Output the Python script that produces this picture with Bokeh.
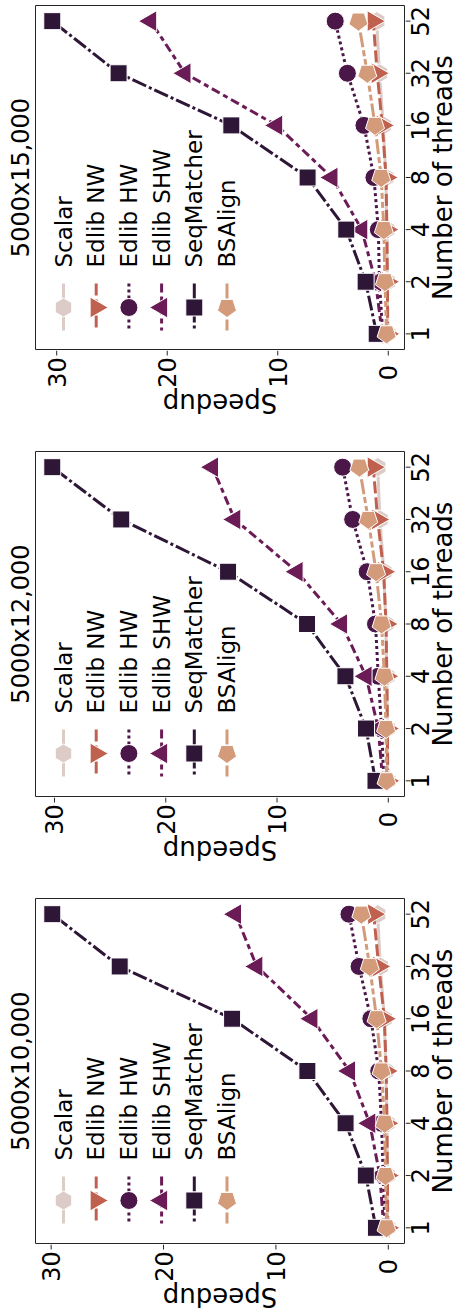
import math
from bokeh.plotting import figure
from bokeh.models import Range1d
from bokeh.layouts import column, row
from bokeh.embed import file_html
from bokeh.resources import INLINE
from bokeh.core.properties import value

# ---------------- data ----------------
threads = ["1", "2", "4", "8", "16", "32", "52"]
series = ["Scalar", "Edlib NW", "Edlib HW", "Edlib SHW", "SeqMatcher", "BSAlign"]
panel_titles = ["5000x15,000", "5000x12,000", "5000x10,000"]
speedup_ticks = [0, 10, 20, 30]
x_label = "Speedup"
y_label = "Number of threads"

# 5000x15,000
s15_scalar = [0.05, 0.08, 0.13, 0.22, 0.45, 0.80, 1.05]
s15_nw = [0.05, 0.08, 0.13, 0.20, 0.54, 1.00, 1.36]
s15_hw = [0.50, 0.80, 0.90, 1.30, 2.20, 3.70, 4.80]
s15_shw = [0.55, 1.15, 2.40, 5.10, 10.1, 18.4, 21.5]
s15_seq = [1.05, 2.05, 3.80, 7.30, 14.2, 24.4, 30.4]
s15_bsa = [0.15, 0.30, 0.40, 0.64, 1.20, 1.90, 2.70]

# 5000x12,000
s12_scalar = [0.05, 0.08, 0.13, 0.22, 0.40, 0.75, 0.95]
s12_nw = [0.05, 0.08, 0.13, 0.20, 0.42, 0.95, 1.35]
s12_hw = [0.40, 0.60, 0.90, 1.15, 1.90, 3.20, 4.10]
s12_shw = [0.50, 0.90, 2.00, 4.20, 8.20, 13.8, 15.8]
s12_seq = [1.15, 2.00, 3.85, 7.30, 14.4, 24.0, 30.2]
s12_bsa = [0.15, 0.20, 0.35, 0.60, 1.10, 1.80, 2.60]

# 5000x10,000
s10_scalar = [0.05, 0.08, 0.12, 0.22, 0.35, 0.70, 0.95]
s10_nw = [0.05, 0.08, 0.12, 0.18, 0.35, 0.85, 1.30]
s10_hw = [0.30, 0.45, 0.60, 0.85, 1.55, 2.60, 3.50]
s10_shw = [0.40, 0.75, 1.65, 3.45, 6.80, 11.7, 13.6]
s10_seq = [1.10, 2.00, 3.80, 7.20, 13.9, 23.9, 29.9]
s10_bsa = [0.15, 0.25, 0.32, 0.60, 1.04, 1.65, 2.40]

panel_data = [
    [s15_scalar, s15_nw, s15_hw, s15_shw, s15_seq, s15_bsa],
    [s12_scalar, s12_nw, s12_hw, s12_shw, s12_seq, s12_bsa],
    [s10_scalar, s10_nw, s10_hw, s10_shw, s10_seq, s10_bsa],
]

# ---------------- style / layout ----------------
colors = ["#dccbc7", "#c0614f", "#4b1748", "#6b1c56", "#2e1637", "#d49b7b"]
dashes = ["solid", "12 4", "3 3", "9 4 5 4", "15 3 3 3", "15 3 6 3 6 3"]
markers = [("hex", math.pi / 2, 19), ("inverted_triangle", math.pi / 2, 21),
           ("circle", 0.0, 18), ("triangle", math.pi / 2, 21),
           ("square", 0.0, 17), ("pentagon", math.pi / 5, 10)]
FONT = "DejaVu Sans"
AX = "#262626"
TICK_FS = "24px"
LAB_FS = "26px"
TITLE_FS = "24px"
LEG_FS = "23px"

TOTAL_W = 458
PAD = 1              # keeps the frame outline fully inside the main canvas
LEFT_W = 35 - PAD    # strip holding the panel title
FW = 369             # plot frame width
TOP = 5
panel_heights = [446, 447, 420]
frame_heights = [344, 345, 345]
R_W = TOTAL_W - LEFT_W - FW - 2 * PAD
TICK_LEN = 5

n = len(threads)
ypos = list(range(n))
ymar = 0.05 * (n - 1)
ylo, yhi = -ymar, (n - 1) + ymar


def draw_marker(p, xs, ys, k):
    name, ang, sz = markers[k]
    if name == "pentagon":
        try:
            p.ngon(x=xs, y=ys, radius=sz, radius_units="screen", n=5,
                   angle=ang, fill_color=colors[k], line_color="white", line_width=1)
            return
        except Exception:
            name, ang, sz = "hex", math.pi / 2, 19
    p.scatter(x=xs, y=ys, marker=name, angle=ang, size=sz,
              fill_color=colors[k], line_color="white", line_width=1)


def strip(fw, fh, xr, yr, top=0, bottom=0, left=0, right=0):
    s = figure(frame_width=fw, frame_height=fh, x_range=xr, y_range=yr,
               x_axis_location=None, y_axis_location=None,
               toolbar_location=None, output_backend="svg",
               min_border_left=left, min_border_right=right,
               min_border_top=top, min_border_bottom=bottom,
               background_fill_color="white", border_fill_color="white")
    s.grid.visible = False
    s.outline_line_color = None
    return s


rows = []
for pi_, title in enumerate(panel_titles):
    data = panel_data[pi_]
    allv = [v for s in data for v in s]
    mn, mx = min(allv), max(allv)
    span = mx - mn
    hi, lo = mx + 0.05 * span, mn - 0.05 * span
    H = panel_heights[pi_]
    FH = frame_heights[pi_]
    xr = Range1d(hi, lo)
    yr = Range1d(ylo, yhi)

    def fx(px):
        return hi - px / FW * (hi - lo)

    def fy(py):
        return yhi - py / FH * (yhi - ylo)

    # ---- main plot ----
    p = strip(FW, FH, xr, yr, top=TOP, bottom=PAD, left=PAD, right=PAD)
    p.outline_line_color = AX
    p.outline_line_width = 1

    for k in range(len(series)):
        p.line(x=data[k], y=ypos, line_color=colors[k], line_width=3,
               line_dash=dashes[k])
        draw_marker(p, data[k], ypos, k)

    # legend (drawn by hand so that it can be rotated like the figure)
    leg_x = [fx(28 + 32.7 * k) for k in range(len(series))]
    for k in range(len(series)):
        p.line(x=[leg_x[k], leg_x[k]], y=[fy(278), fy(325)], line_color=colors[k],
               line_width=3, line_dash=dashes[k])
        draw_marker(p, [leg_x[k]], [fy(302)], k)
    p.text(x=leg_x, y=[fy(262)] * len(series), text=series, angle=math.pi / 2,
           text_font=value(FONT), text_font_size=LEG_FS, text_align="left",
           text_baseline="middle", text_color="black")

    # ---- left strip: title ----
    L = strip(LEFT_W, FH, Range1d(0, LEFT_W), yr, top=TOP, bottom=H - TOP - FH)
    L.text(x=[20.3], y=[(ylo + yhi) / 2], text=[title], angle=math.pi / 2,
           text_font=value(FONT), text_font_size=TITLE_FS, text_align="center",
           text_baseline="middle", text_color="black")

    # ---- right strip: thread axis (ticks, tick labels, title) ----
    R = strip(R_W, FH, Range1d(0, R_W), yr, top=TOP, bottom=H - TOP - FH)
    R.segment(x0=[0] * n, y0=ypos, x1=[TICK_LEN] * n, y1=ypos, line_color=AX,
              line_width=1)
    R.text(x=[14.5] * n, y=ypos, text=threads, angle=math.pi / 2,
           text_font=value(FONT), text_font_size=TICK_FS, text_align="center",
           text_baseline="middle", text_color="black")
    R.text(x=[R_W - 15.3], y=[(ylo + yhi) / 2], text=[y_label], angle=math.pi / 2,
           text_font=value(FONT), text_font_size=LAB_FS, text_align="center",
           text_baseline="middle", text_color="black")

    # ---- bottom strip: speedup axis (ticks, tick labels, upside-down title) ----
    BH = H - TOP - FH - PAD
    B = strip(FW, BH, xr, Range1d(0, BH), left=PAD, right=PAD)
    nt = len(speedup_ticks)
    B.segment(x0=speedup_ticks, y0=[BH] * nt, x1=speedup_ticks,
              y1=[BH - TICK_LEN] * nt, line_color=AX, line_width=1)
    B.text(x=speedup_ticks, y=[BH - 22] * nt, text=[str(t) for t in speedup_ticks],
           angle=math.pi / 2, text_font=value(FONT), text_font_size=TICK_FS,
           text_align="center", text_baseline="middle", text_color="black")
    B.text(x=[(hi + lo) / 2], y=[BH - 52.5], text=[x_label],
           angle=math.pi, text_font=value(FONT), text_font_size=LAB_FS,
           text_align="center", text_baseline="middle", text_color="black")

    rows.append(row(L, column(p, B, spacing=0), R, spacing=0))

layout = column(*rows, spacing=0)
open("out.html", "w").write(file_html(layout, INLINE))
